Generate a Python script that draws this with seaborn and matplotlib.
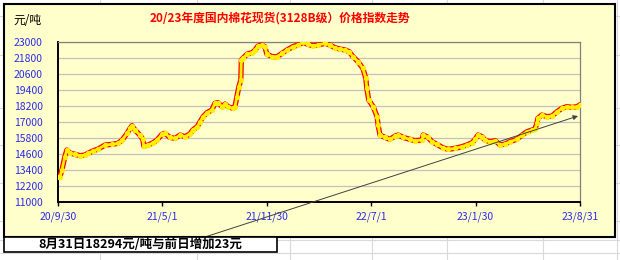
import matplotlib
matplotlib.use("Agg")
import matplotlib.pyplot as plt
from matplotlib.patches import Rectangle
from matplotlib.lines import Line2D
import seaborn as sns
import pandas as pd

sns.set_theme(style="white")
plt.rcParams['font.family'] = ['Noto Sans CJK SC', 'DejaVu Sans']

title = "20/23年度国内棉花现货(3128B级）价格指数走势"
unit_label = "元/吨"
note = "8月31日18294元/吨与前日增加23元"

dates = [
    "2020-09-30", "2020-10-04", "2020-10-08", "2020-10-14", "2020-10-18", "2020-10-24",
    "2020-11-04", "2020-11-14", "2020-11-24", "2020-11-30", "2020-12-10", "2020-12-21",
    "2021-01-04", "2021-01-18", "2021-01-30", "2021-02-08", "2021-02-18", "2021-02-24",
    "2021-02-28", "2021-03-06", "2021-03-16", "2021-03-22", "2021-03-24", "2021-04-02",
    "2021-04-12", "2021-04-20", "2021-04-30", "2021-05-06", "2021-05-16", "2021-05-27",
    "2021-06-06", "2021-06-16", "2021-06-26", "2021-07-02", "2021-07-11", "2021-07-17",
    "2021-07-23", "2021-07-31", "2021-08-10", "2021-08-16", "2021-08-22", "2021-08-31",
    "2021-09-06", "2021-09-12", "2021-09-22", "2021-09-26", "2021-09-30", "2021-10-04",
    "2021-10-08", "2021-10-09", "2021-10-12", "2021-10-21", "2021-10-31", "2021-11-06",
    "2021-11-12", "2021-11-20", "2021-11-26", "2021-11-30", "2021-12-11", "2021-12-21",
    "2021-12-31", "2022-01-10", "2022-01-22", "2022-02-02", "2022-02-12", "2022-02-22",
    "2022-03-04", "2022-03-14", "2022-03-29", "2022-04-08", "2022-04-18", "2022-04-28",
    "2022-05-09", "2022-05-17", "2022-05-25", "2022-06-04", "2022-06-14", "2022-06-20",
    "2022-06-22", "2022-06-26", "2022-07-05", "2022-07-13", "2022-07-15", "2022-07-19",
    "2022-07-29", "2022-08-08", "2022-08-19", "2022-08-25", "2022-09-04", "2022-09-18",
    "2022-09-28", "2022-10-13", "2022-10-15", "2022-10-25", "2022-11-02", "2022-11-12",
    "2022-11-24", "2022-12-05", "2022-12-19", "2023-01-02", "2023-01-12", "2023-01-23",
    "2023-01-29", "2023-02-04", "2023-02-12", "2023-02-18", "2023-02-28", "2023-03-11",
    "2023-03-21", "2023-03-31", "2023-04-10", "2023-04-24", "2023-05-05", "2023-05-15",
    "2023-05-25", "2023-05-31", "2023-06-04", "2023-06-06", "2023-06-14", "2023-06-25",
    "2023-07-05", "2023-07-15", "2023-07-25", "2023-08-04", "2023-08-15", "2023-08-25",
    "2023-08-31",
]
prices = [
    12900, 12900, 13400, 14400, 14900, 14675,
    14575, 14475, 14525, 14650, 14825, 14975,
    15275, 15325, 15400, 15650, 16150, 16525,
    16725, 16400, 16025, 15700, 15200, 15275,
    15450, 15650, 16075, 16150, 15850, 15775,
    16025, 15900, 16100, 16400, 16650, 17025,
    17400, 17700, 17900, 18400, 18450, 18150,
    18350, 18150, 18025, 18150, 18900, 19650,
    20150, 21650, 21775, 22100, 22200, 22400,
    22700, 22775, 22650, 22100, 21900, 21900,
    22150, 22400, 22650, 22775, 22975, 22825,
    22725, 22775, 22900, 22775, 22575, 22475,
    22400, 22275, 21900, 21525, 21025, 20275,
    19525, 18650, 18150, 17400, 16775, 16025,
    15850, 15700, 15950, 16025, 15850, 15700,
    15600, 15650, 16025, 15850, 15525, 15325,
    15075, 14950, 15025, 15150, 15275, 15450,
    15700, 16025, 15900, 15650, 15525, 15600,
    15275, 15350, 15525, 15700, 16025, 16275,
    16400, 16450, 16900, 17275, 17525, 17400,
    17450, 17775, 18025, 18150, 18100, 18150,
    18294,
]
tick_dates = ["2020-09-30", "2021-05-01", "2021-11-30", "2022-07-01", "2023-01-30", "2023-08-31"]
tick_labels = ["20/9/30", "21/5/1", "21/11/30", "22/7/1", "23/1/30", "23/8/31"]
y_ticks = [11000, 12200, 13400, 14600, 15800, 17000, 18200, 19400, 20600, 21800, 23000]

df = pd.DataFrame({"date": pd.to_datetime(dates), "price": prices})

W, H = 620, 260
fig = plt.figure(figsize=(W / 100, H / 100), dpi=100)
fig.patch.set_facecolor("white")

# Excel sheet grid in background
gcol = "#D9D9D9"
for xp in [100, 197, 290, 372, 447, 543, 617]:
    fig.add_artist(Line2D([xp / W, xp / W], [0, 1], color=gcol, lw=0.8, zorder=0))
for yp in [16, 55, 108, 145, 183, 221, 240, 253]:
    fig.add_artist(Line2D([0, 1], [1 - yp / H, 1 - yp / H], color=gcol, lw=0.8, zorder=0))

# chart area
fig.add_artist(Rectangle((4 / W, 1 - 237 / H), 611 / W, 233 / H, transform=fig.transFigure,
                         facecolor="#FFFFCC", edgecolor="black", lw=1.5, zorder=1))

ax = fig.add_axes([58 / W, 1 - 202 / H, 522 / W, 160 / H])
ax.set_facecolor("#FFFFCC")
ax.set_zorder(2)

sns.lineplot(data=df, x="date", y="price", ax=ax, color="#FF0000", linewidth=3.8, zorder=3)
sns.lineplot(data=df, x="date", y="price", ax=ax, color="#FFF000", linewidth=2.0, zorder=4,
             marker="o", markersize=3.8, markeredgewidth=0, markerfacecolor="#FFF000")

ax.set_xlim(pd.Timestamp(tick_dates[0]), pd.Timestamp(tick_dates[-1]))
ax.set_ylim(y_ticks[0], y_ticks[-1])
ax.set_yticks(y_ticks)
ax.set_yticklabels([str(v) for v in y_ticks])
ax.set_xticks(pd.to_datetime(tick_dates))
ax.set_xticklabels(tick_labels)
ax.set_xlabel("")
ax.set_ylabel("")
ax.yaxis.grid(True, color="#C0C0C0", lw=0.9)
ax.xaxis.grid(False)
ax.set_axisbelow(True)

blue = "#2B2BF0"
ax.tick_params(axis="y", length=0, left=False, pad=11, labelsize=7.5, labelcolor=blue)
ax.tick_params(axis="x", length=3, width=1, direction="out", color="black", pad=4,
               labelsize=7.5, labelcolor=blue, bottom=True)
for s in ["left", "bottom"]:
    ax.spines[s].set_color("black")
    ax.spines[s].set_linewidth(1.4)
for s in ["top", "right"]:
    ax.spines[s].set_color("#808080")
    ax.spines[s].set_linewidth(0.9)

# titles
fig.text(280 / W, 1 - 18 / H, title, color="#FF0000", fontsize=8.5, fontweight="bold",
         ha="center", va="center", zorder=5)
fig.text(13 / W, 1 - 20 / H, unit_label, color="black", fontsize=8.5, ha="left", va="center", zorder=5)

# note box
fig.add_artist(Rectangle((4 / W, 1 - 252 / H), 273 / W, 15 / H, transform=fig.transFigure,
                         facecolor="white", edgecolor="black", lw=1.2, zorder=6))
fig.text(140 / W, 1 - 244.5 / H, note, color="black", fontsize=9, fontweight="bold",
         ha="center", va="center", zorder=7)

# arrow
ann = ax.annotate("", xy=(578, H - 116), xycoords="figure pixels",
                  xytext=(205, H - 237), textcoords="figure pixels",
                  arrowprops=dict(arrowstyle="-|>", color="#404040", lw=0.7,
                                  mutation_scale=7, shrinkA=0, shrinkB=0),
                  annotation_clip=False)
ann.set_zorder(5)

fig.savefig("out.png", dpi=100, facecolor="white")
